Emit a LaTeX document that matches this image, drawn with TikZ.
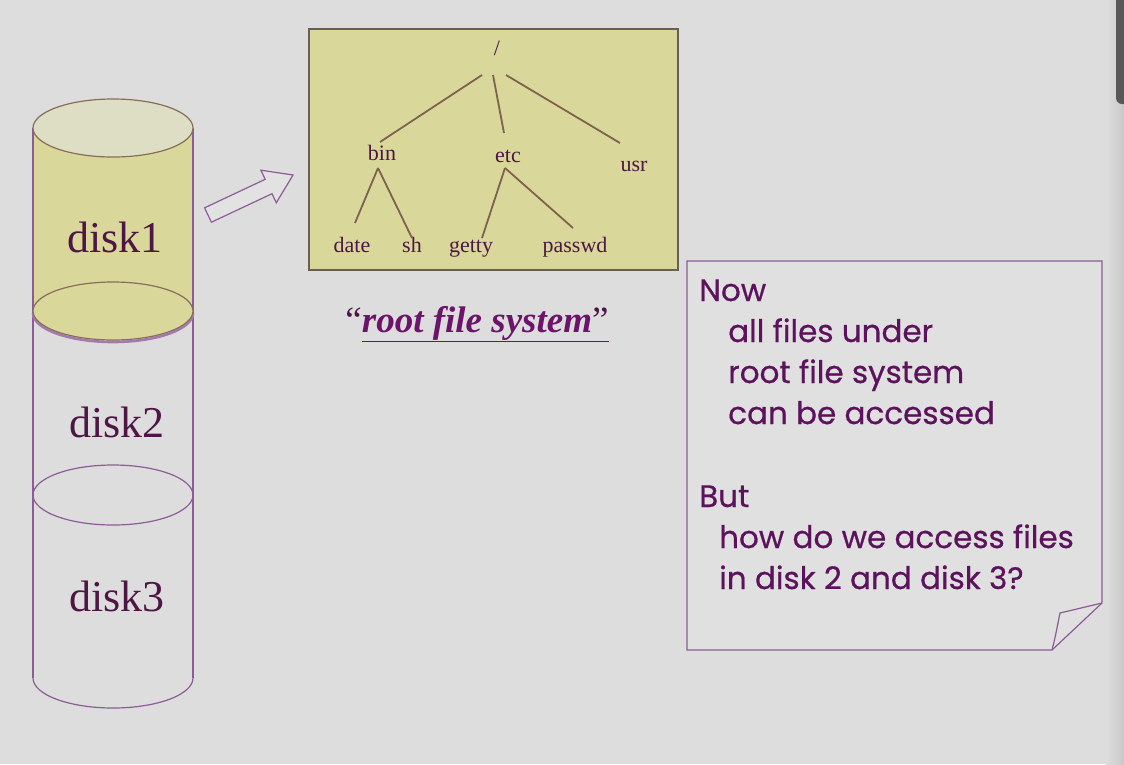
\documentclass[tikz,border=0pt]{standalone}
\usepackage{fontspec}
\setmainfont{Liberation Serif}
\newfontfamily\notefont[FakeBold=0.6]{Poppins}
\usetikzlibrary{calc}
\definecolor{bgc}{RGB}{221,221,221}
\definecolor{khaki}{RGB}{218,215,155}
\definecolor{capc}{RGB}{222,222,197}
\definecolor{edgec}{RGB}{140,92,150}
\definecolor{rimc}{RGB}{135,110,90}
\definecolor{treeline}{RGB}{125,98,78}
\definecolor{labelc}{RGB}{78,22,68}
\definecolor{notec}{RGB}{92,18,92}
\definecolor{rootc}{RGB}{108,20,108}
\begin{document}
\begin{tikzpicture}[x=1pt,y=-1pt,
  disklabel/.style={font=\fontsize{44}{48}\selectfont, text=labelc, inner sep=0pt},
  treelabel/.style={font=\fontsize{22}{24}\selectfont, text=labelc, inner sep=1pt, anchor=base},
  treeedge/.style={draw=treeline, line width=1.8pt},
  noteline/.style={font=\notefont\fontsize{31}{34}\selectfont, text=notec, anchor=base west, inner sep=0pt},
  cyledge/.style={draw=edgec, line width=1.2pt}]

% canvas
\useasboundingbox (0,0) rectangle (1124,764);
\clip (0,0) rectangle (1124,764);
\fill[bgc] (0,0) rectangle (1124,764);
\shade[left color=bgc, right color={rgb,255:red,200;green,200;blue,200}] (1106,0) rectangle (1124,764);
\fill[rounded corners=6pt, fill={rgb,255:red,88;green,88;blue,88}] (1116,-10) rectangle (1132,104);

% ---- stacked disks ----
% disk1 body
\fill[khaki] (33,128) -- (33,311) arc[start angle=180, end angle=0, x radius=80, y radius=29] -- (193,128) -- cycle;
\draw[cyledge] (33,128) -- (33,678);
\draw[cyledge] (193,128) -- (193,678);
% bottom rim of the stack
\draw[cyledge] (33,678) arc[start angle=180, end angle=0, x radius=80, y radius=30];
% disk2 / disk3 boundary
\draw[cyledge] (113,495) ellipse[x radius=80, y radius=30];
% disk1 lower rim
\draw[draw={rgb,255:red,165;green,120;blue,175}, line width=2.6pt] (33,313) arc[start angle=180, end angle=0, x radius=80, y radius=29];
\filldraw[fill=khaki, draw=rimc, line width=1.2pt] (113,311) ellipse[x radius=80, y radius=29];
% top cap
\filldraw[fill=capc, draw=rimc, line width=1.2pt] (113,128) ellipse[x radius=80, y radius=29];

\node[disklabel] (d1) at (115,237) {disk1};
\node[disklabel] (d2) at (117,422) {disk2};
\node[disklabel] (d3) at (117,596) {disk3};

% ---- block arrow ----
\filldraw[fill={rgb,255:red,226;green,226;blue,226}, draw=edgec, line width=1.2pt, line join=miter]
  (204.6,207.8) -- (265.2,179.3) -- (260.9,170.2) -- (293,175) -- (276.3,202.8) -- (272.0,193.7) -- (211.4,222.2) -- cycle;

% ---- directory tree ----
\filldraw[fill=khaki, draw={rgb,255:red,105;green,95;blue,90}, line width=1.8pt] (309,29) rectangle (678,270);
\node[treelabel] (root) at (497,55) {/};
\node[treelabel] (bin) at (382,160) {bin};
\node[treelabel] (etc) at (508,162) {etc};
\node[treelabel] (usr) at (634,171) {usr};
\node[treelabel] (date) at (352,252) {date};
\node[treelabel] (sh) at (412,252) {sh};
\node[treelabel] (getty) at (471,252) {getty};
\node[treelabel] (passwd) at (575,252) {passwd};

\draw[treeedge] ($(root.base)+(-15,20)$) -- ($(bin.base)+(-2,-18)$);
\draw[treeedge] ($(root.base)+(-4,20)$) -- ($(etc.base)+(-4,-29)$);
\draw[treeedge] ($(root.base)+(9,20)$) -- ($(usr.base)+(-14,-28)$);
\draw[treeedge] ($(bin.base)+(-4,8)$) -- ($(date.base)+(3,-29)$);
\draw[treeedge] ($(bin.base)+(-4,8)$) -- ($(sh.base)+(0,-14)$);
\draw[treeedge] ($(etc.base)+(-3,6)$) -- ($(getty.base)+(11,-14)$);
\draw[treeedge] ($(etc.base)+(-3,6)$) -- ($(passwd.base)+(-2,-24)$);

% caption
\node[font=\fontsize{37}{40}\selectfont, text=labelc, inner sep=0pt, anchor=base] (cap) at (477,332)
  {``{\color{rootc}\underline{\textbf{\textit{root file system}}{\color{labelc}''}}}};

% ---- note ----
\filldraw[fill={rgb,255:red,224;green,224;blue,224}, draw=edgec, line width=1.2pt, line join=miter]
  (687,261) -- (1102,261) -- (1102,603) -- (1052,650) -- (687,650) -- cycle;
\draw[draw=edgec, line width=1.2pt, line join=miter]
  (1052,650) .. controls (1056,635) and (1058,622) .. (1060,613) -- (1102,603);

\node[noteline] (n1) at (699,301) {Now};
\node[noteline] (n2) at (728,342) {all files under};
\node[noteline] (n3) at (728,383) {root file system};
\node[noteline] (n4) at (728,424) {can be accessed};
\node[noteline] (n5) at (699,507) {But};
\node[noteline] (n6) at (719,548) {how do we access files};
\node[noteline] (n7) at (719,589) {in disk 2 and disk 3?};
\end{tikzpicture}
\end{document}
